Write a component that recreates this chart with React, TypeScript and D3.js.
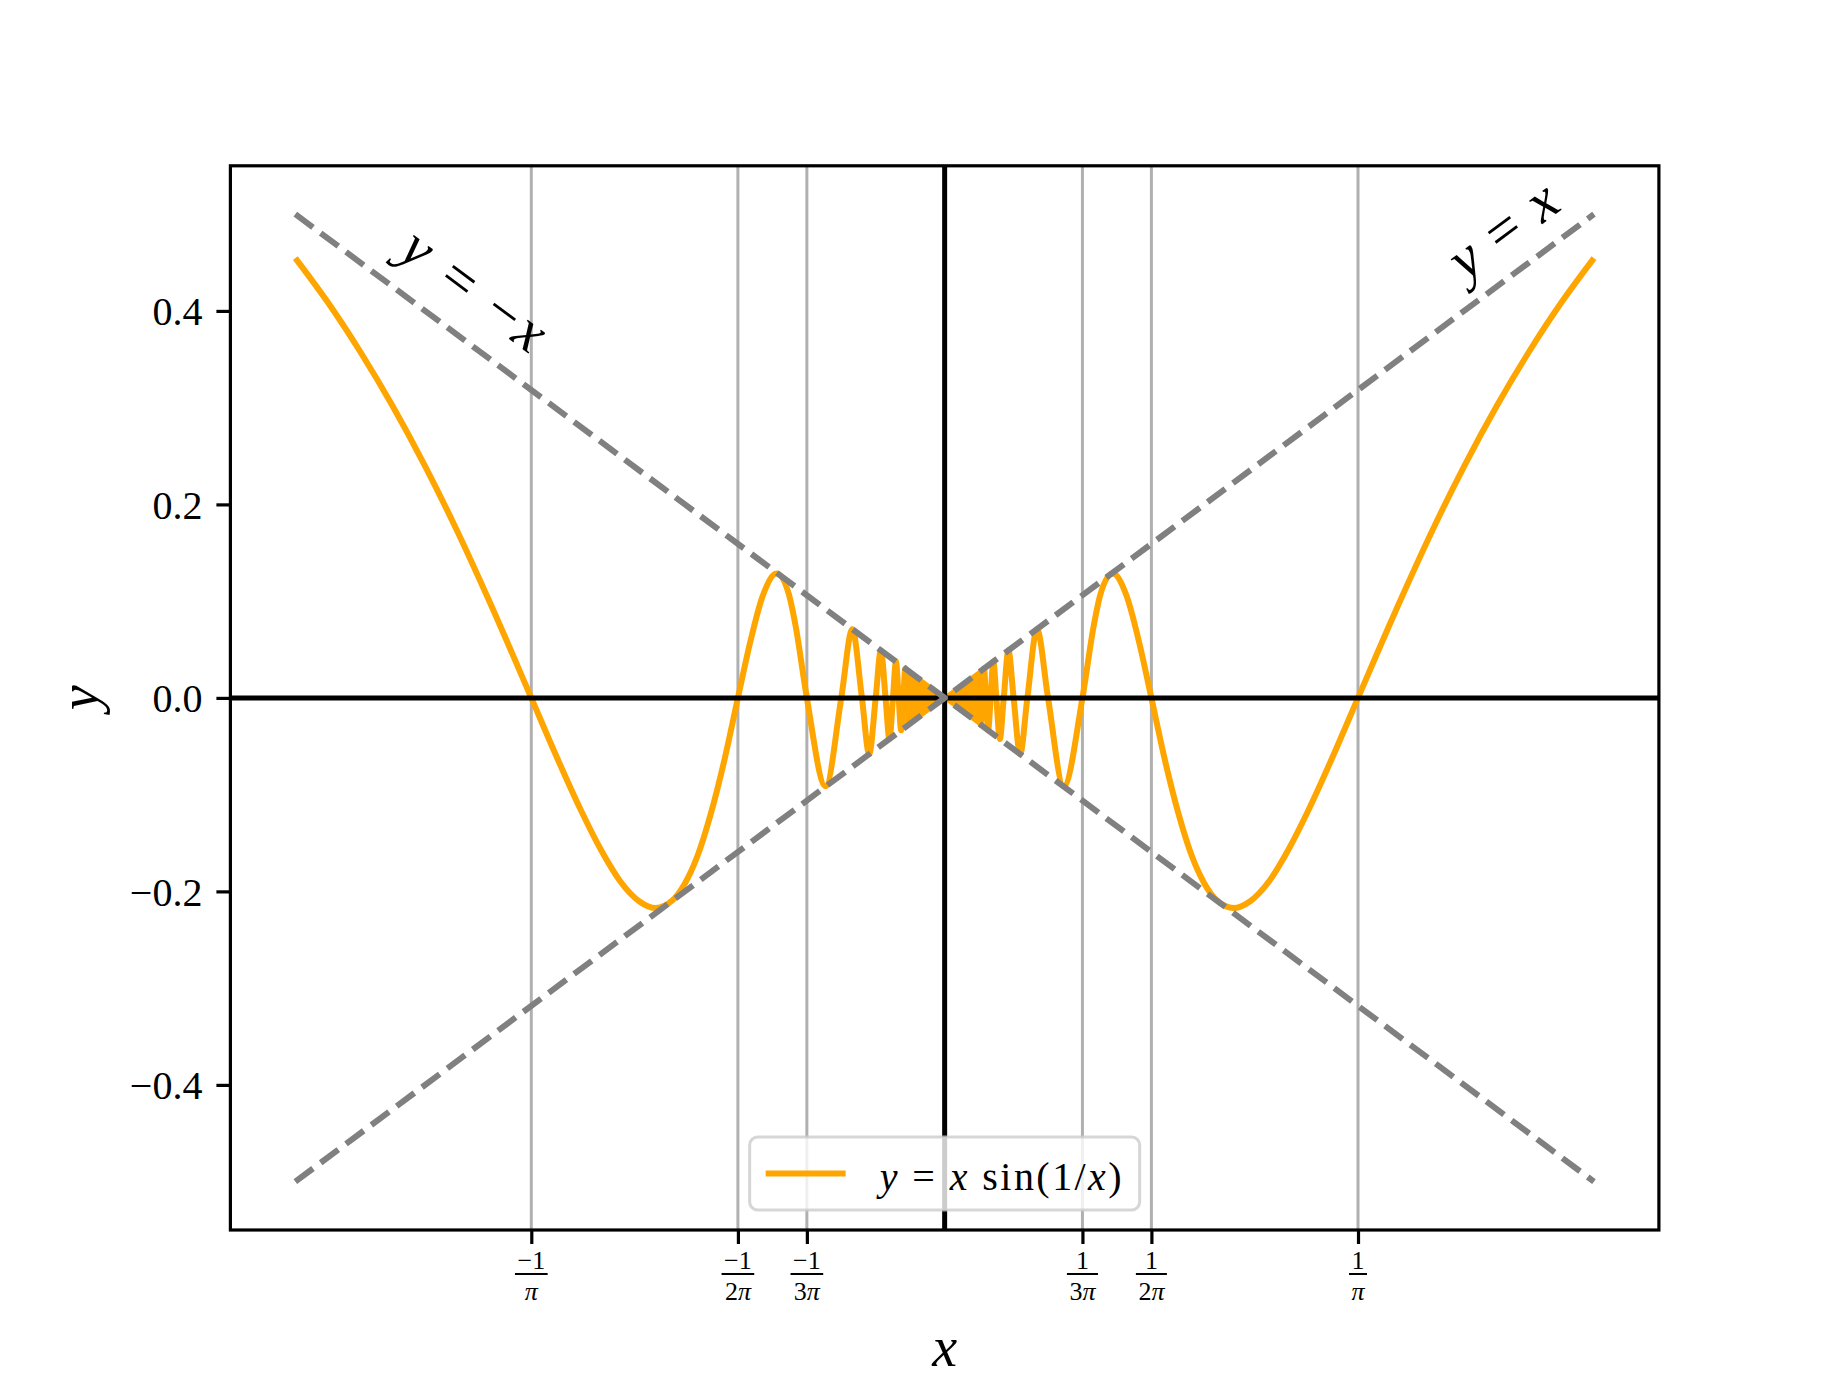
import { useEffect, useRef } from 'react';
import * as d3 from 'd3';

// y = x sin(1/x), right branch: zeros, extrema and points along the two large humps
const rightX = [
  0.0265, 0.0277, 0.0289, 0.0303, 0.0318, 0.0335, 0.0354, 0.0375, 0.0398, 0.0425, 0.0455, 0.0491,
  0.0531, 0.0581, 0.0637, 0.0711, 0.0796, 0.0917, 0.1061, 0.115, 0.12, 0.1294, 0.14, 0.15, 0.1592,
  0.17, 0.18, 0.19, 0.2, 0.21, 0.2225, 0.235, 0.25, 0.265, 0.28, 0.3, 0.3183, 0.35, 0.375, 0.4,
  0.425, 0.45, 0.475, 0.5,
];
const rightY = [
  0, -0.0277, 0, 0.0303, 0, -0.0335, 0, 0.0375, 0, -0.0425, 0, 0.049, 0, -0.058, 0, 0.0709, 0,
  -0.0913, 0, 0.0761, 0.1072, 0.1285, 0.1058, 0.0561, 0, -0.0665, -0.1194, -0.1622, -0.1918,
  -0.2098, -0.2172, -0.2104, -0.1892, -0.1562, -0.1164, -0.0572, 0, 0.0981, 0.1715, 0.2394, 0.3015,
  0.3578, 0.4089, 0.4546,
];

// left branch (the picture is mirror symmetric about x = 0)
const leftX = [
  -0.5, -0.475, -0.45, -0.425, -0.4, -0.375, -0.35, -0.3183, -0.3, -0.28, -0.265, -0.25, -0.235,
  -0.2225, -0.21, -0.2, -0.19, -0.18, -0.17, -0.1592, -0.15, -0.14, -0.1294, -0.12, -0.115, -0.1061,
  -0.0917, -0.0796, -0.0711, -0.0637, -0.0581, -0.0531, -0.0491, -0.0455, -0.0425, -0.0398, -0.0375,
  -0.0354, -0.0335, -0.0318, -0.0303, -0.0289,
];
const leftY = [
  0.4546, 0.4089, 0.3578, 0.3015, 0.2394, 0.1715, 0.0981, 0, -0.0572, -0.1164, -0.1562, -0.1892,
  -0.2104, -0.2172, -0.2098, -0.1918, -0.1622, -0.1194, -0.0665, 0, 0.0561, 0.1058, 0.1285, 0.1072,
  0.0761, 0, -0.0913, 0, 0.0709, 0, -0.058, 0, 0.049, 0, -0.0425, 0, 0.0375, 0, -0.0335, 0, 0.0303, 0,
];

// near the origin the oscillations merge into a solid wedge between y = x and y = -x
const wedgeRightX = [0, 0.027];
const wedgeRightUpper = [0, 0.027];
const wedgeRightLower = [0, -0.027];
const wedgeLeftX = [-0.0289, 0];
const wedgeLeftUpper = [0.0289, 0];
const wedgeLeftLower = [-0.0289, 0];

// guide lines y = x and y = -x
const guideX = [-0.5, 0.5];
const guidePlusY = [-0.5, 0.5];
const guideMinusY = [0.5, -0.5];

// x ticks at ±1/π, ±1/(2π), ±1/(3π)
const xTicks = [-0.3183, -0.1592, -0.1061, 0.1061, 0.1592, 0.3183];
const xTickNum = ['−1', '−1', '−1', '1', '1', '1'];
const xTickDen = ['π', '2π', '3π', '3π', '2π', 'π'];

const yTicks = [-0.4, -0.2, 0, 0.2, 0.4];

const W = 1843;
const H = 1382;
const FONT = "'Liberation Serif', 'DejaVu Serif', serif";

type Pt = [number, number];
const zip = (xs: number[], ys: number[]): Pt[] => xs.map((v, i) => [v, ys[i]]);

function mathText(
  sel: d3.Selection<SVGTextElement, unknown, null, undefined>,
  parts: [string, boolean][]
) {
  parts.forEach(([s, it]) => {
    sel.append('tspan').style('font-style', it ? 'italic' : 'normal').text(s);
  });
}

export default function App() {
  const ref = useRef<SVGSVGElement>(null);

  useEffect(() => {
    if (!ref.current) return;
    const svg = d3.select(ref.current);
    svg.selectAll('*').remove();

    const left = 230.4;
    const right = 1658.9;
    const top = 165.8;
    const bottom = 1230;

    const x = d3.scaleLinear().domain([-0.55, 0.55]).range([left, right]);
    const y = d3.scaleLinear().domain([-0.55, 0.55]).range([bottom, top]);

    svg.append('rect').attr('width', W).attr('height', H).attr('fill', '#ffffff');

    const plot = svg.append('g');

    // grey verticals at the zeros
    plot
      .selectAll('line.mark')
      .data(xTicks)
      .enter()
      .append('line')
      .attr('class', 'mark')
      .attr('x1', (d) => x(d))
      .attr('x2', (d) => x(d))
      .attr('y1', top)
      .attr('y2', bottom)
      .attr('stroke', '#b0b0b0')
      .attr('stroke-width', 3);

    const line = d3
      .line<Pt>()
      .x((d) => x(d[0]))
      .y((d) => y(d[1]))
      .curve(d3.curveMonotoneX);

    // wedge near origin
    const wedge = (xs: number[], up: number[], lo: number[]) =>
      d3
        .area<number>()
        .x((d) => x(xs[d]))
        .y0((d) => y(lo[d]))
        .y1((d) => y(up[d]))(d3.range(xs.length));

    [
      wedge(wedgeRightX, wedgeRightUpper, wedgeRightLower),
      wedge(wedgeLeftX, wedgeLeftUpper, wedgeLeftLower),
    ].forEach((p) => {
      plot
        .append('path')
        .attr('d', p)
        .attr('fill', '#ffa500')
        .attr('stroke', '#ffa500')
        .attr('stroke-width', 4)
        .attr('stroke-linejoin', 'round');
    });

    [zip(rightX, rightY), zip(leftX, leftY)].forEach((pts) => {
      plot
        .append('path')
        .attr('d', line(pts))
        .attr('fill', 'none')
        .attr('stroke', '#ffa500')
        .attr('stroke-width', 6)
        .attr('stroke-linejoin', 'round');
    });

    // black axes through the origin
    plot
      .append('line')
      .attr('x1', left)
      .attr('x2', right)
      .attr('y1', y(0))
      .attr('y2', y(0))
      .attr('stroke', '#000')
      .attr('stroke-width', 5);
    plot
      .append('line')
      .attr('x1', x(0))
      .attr('x2', x(0))
      .attr('y1', top)
      .attr('y2', bottom)
      .attr('stroke', '#000')
      .attr('stroke-width', 5);

    // dashed guides
    [zip(guideX, guidePlusY), zip(guideX, guideMinusY)].forEach((pts) => {
      plot
        .append('path')
        .attr('d', d3.line<Pt>().x((d) => x(d[0])).y((d) => y(d[1]))(pts))
        .attr('fill', 'none')
        .attr('stroke', '#808080')
        .attr('stroke-width', 6)
        .attr('stroke-dasharray', '22,9.6');
    });

    // guide annotations, rotated along the lines
    const ang = (Math.atan2(y(0) - y(0.5), x(0.5) - x(0)) * 180) / Math.PI;
    const annot = (
      cx: number,
      cy: number,
      rot: number,
      len: number,
      parts: [string, boolean][]
    ) => {
      const t = svg
        .append('text')
        .attr('transform', `translate(${x(cx)},${y(cy)}) rotate(${rot})`)
        .attr('text-anchor', 'middle')
        .attr('dy', '0.25em')
        .attr('textLength', len)
        .attr('lengthAdjust', 'spacing')
        .style('font-family', FONT)
        .style('font-size', '58px')
        .style('white-space', 'pre')
        .attr('fill', '#000');
      mathText(t, parts);
    };
    annot(0.432, 0.48, -ang, 122, [['y', true], [' = ', false], ['x', true]]);
    annot(-0.364, 0.418, ang, 166, [['y', true], [' = −', false], ['x', true]]);

    // spines
    svg
      .append('rect')
      .attr('x', left)
      .attr('y', top)
      .attr('width', right - left)
      .attr('height', bottom - top)
      .attr('fill', 'none')
      .attr('stroke', '#000')
      .attr('stroke-width', 3.2);

    // y axis
    const yAxis = svg
      .append('g')
      .attr('transform', `translate(${left},0)`)
      .call(
        d3
          .axisLeft(y)
          .tickValues(yTicks)
          .tickSize(14)
          .tickPadding(14)
          .tickFormat((d) => d3.format('.1f')(d as number).replace('-', '−'))
      );
    yAxis.select('.domain').remove();
    yAxis.selectAll('line').attr('stroke', '#000').attr('stroke-width', 3.2);
    yAxis
      .selectAll('text')
      .attr('fill', '#000')
      .attr('dy', '0.34em')
      .style('font-family', FONT)
      .style('font-size', '40px');

    // x axis with fraction labels
    const xAxis = svg
      .append('g')
      .attr('transform', `translate(0,${bottom})`)
      .call(d3.axisBottom(x).tickValues(xTicks).tickSize(14).tickFormat(() => ''));
    xAxis.select('.domain').remove();
    xAxis.selectAll('line').attr('stroke', '#000').attr('stroke-width', 3.2);

    xTicks.forEach((v, i) => {
      const g = svg.append('g').attr('transform', `translate(${x(v)},0)`);
      const num = g
        .append('text')
        .attr('y', 1269)
        .attr('text-anchor', 'middle')
        .style('font-family', FONT)
        .style('font-size', '26px')
        .text(xTickNum[i]);
      const den = g
        .append('text')
        .attr('y', 1300)
        .attr('text-anchor', 'middle')
        .style('font-family', FONT)
        .style('font-size', '26px');
      const m = xTickDen[i].match(/^(\d*)(π)$/);
      if (m) {
        if (m[1]) den.append('tspan').text(m[1]);
        den.append('tspan').style('font-style', 'italic').text(m[2]);
      }
      const wNum = (num.node() as SVGTextElement).getComputedTextLength();
      const wDen = (den.node() as SVGTextElement).getComputedTextLength();
      const bw = Math.max(wNum, wDen) + 5;
      g.append('line')
        .attr('x1', -bw / 2)
        .attr('x2', bw / 2)
        .attr('y1', 1274)
        .attr('y2', 1274)
        .attr('stroke', '#000')
        .attr('stroke-width', 2);
    });

    // axis labels
    svg
      .append('text')
      .attr('x', x(0))
      .attr('y', 1347)
      .attr('text-anchor', 'middle')
      .attr('dominant-baseline', 'central')
      .style('font-family', FONT)
      .style('font-size', '56px')
      .style('font-style', 'italic')
      .text('x');
    svg
      .append('text')
      .attr('transform', `translate(79,${y(0)}) rotate(-90)`)
      .attr('text-anchor', 'middle')
      .attr('dominant-baseline', 'central')
      .style('font-family', FONT)
      .style('font-size', '56px')
      .style('font-style', 'italic')
      .text('y');

    // legend, lower centre
    const lg = svg.append('g');
    const box = lg.append('rect');
    const textW = 242;
    const lt = lg
      .append('text')
      .attr('dominant-baseline', 'central')
      .style('font-family', FONT)
      .style('font-size', '40px')
      .style('white-space', 'pre')
      .attr('textLength', textW)
      .attr('lengthAdjust', 'spacing');
    mathText(lt, [
      ['y', true],
      [' = ', false],
      ['x', true],
      [' sin(1/', false],
      ['x', true],
      [')', false],
    ]);
    const boxW = 16 + 80 + 32 + textW + 20;
    const boxH = 73;
    const bx = x(0) - boxW / 2;
    const by = bottom - 20 - boxH;
    box
      .attr('x', bx)
      .attr('y', by)
      .attr('width', boxW)
      .attr('height', boxH)
      .attr('rx', 8)
      .attr('fill', '#ffffff')
      .attr('fill-opacity', 0.8)
      .attr('stroke', '#cccccc')
      .attr('stroke-opacity', 0.8)
      .attr('stroke-width', 3);
    lg.append('line')
      .attr('x1', bx + 16)
      .attr('x2', bx + 96)
      .attr('y1', by + boxH / 2)
      .attr('y2', by + boxH / 2)
      .attr('stroke', '#ffa500')
      .attr('stroke-width', 6);
    lt.attr('x', bx + 130).attr('y', by + boxH / 2 + 2);
  }, []);

  return (
    <div style={{ position: 'absolute', left: 0, top: 0 }}>
      <svg ref={ref} width={W} height={H} style={{ display: 'block' }} />
    </div>
  );
}
